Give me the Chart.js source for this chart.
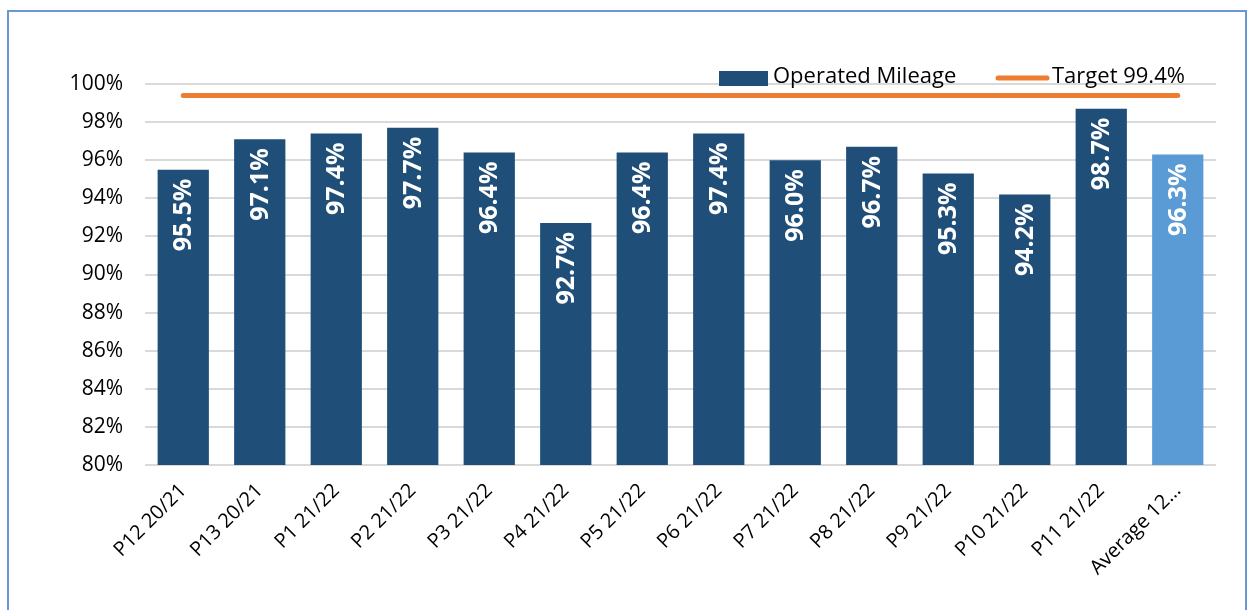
<!DOCTYPE html>
<html>
<head>
<meta charset="utf-8">
<script src="https://cdn.jsdelivr.net/npm/chart.js@4"></script>
<style>
  html, body { margin: 0; padding: 0; background: #fff; }
  #wrap { position: relative; width: 1251px; height: 610px; overflow: hidden; }
  #frame { position: absolute; left: 7px; top: 10px; width: 1240px; height: 640px; border: 2px solid #6A97D2; box-sizing: border-box; }
  canvas { position: absolute; left: 0; top: 0; }
</style>
</head>
<body>
<div id="wrap">
  <div id="frame"></div>
  <canvas id="chart" width="1251" height="610"></canvas>
</div>
<script>
// Catégories et valeurs
var periods = ['P12 20/21', 'P13 20/21', 'P1 21/22', 'P2 21/22', 'P3 21/22', 'P4 21/22', 'P5 21/22',
    'P6 21/22', 'P7 21/22', 'P8 21/22', 'P9 21/22', 'P10 21/22', 'P11 21/22', 'Average 12…'];
var mileage = [95.5, 97.1, 97.4, 97.7, 96.4, 92.7, 96.4, 97.4, 96.0, 96.7, 95.3, 94.2, 98.7, 96.3];
var targetValue = 99.4;
var target = periods.map(function () { return targetValue; });

var darkBlue = '#1F4E79';
var lightBlue = '#5B9BD5';
var orange = '#ED7D31';
var fontName = "'Open Sans', 'Liberation Sans', sans-serif";

var barColors = mileage.map(function (v, i) {
    return i === mileage.length - 1 ? lightBlue : darkBlue;
});

// Étiquettes verticales blanches dans les barres
var barLabels = {
    id: 'barLabels',
    afterDatasetsDraw: function (chart) {
        var ctx = chart.ctx;
        var meta = chart.getDatasetMeta(1);
        ctx.save();
        ctx.fillStyle = '#fff';
        ctx.font = 'bold 25px ' + fontName;
        ctx.textAlign = 'right';
        ctx.textBaseline = 'middle';
        meta.data.forEach(function (bar, i) {
            ctx.save();
            ctx.translate(bar.x + 1, bar.y + 9);
            ctx.rotate(-Math.PI / 2);
            ctx.fillText(mileage[i].toFixed(1) + '%', 0, 0);
            ctx.restore();
        });
        ctx.restore();
    }
};

// Légende dessinée à la main en haut à droite
var legendBox = {
    id: 'legendBox',
    afterDraw: function (chart) {
        var ctx = chart.ctx;
        ctx.save();
        ctx.font = '22px ' + fontName;
        ctx.textBaseline = 'middle';
        ctx.fillStyle = darkBlue;
        ctx.fillRect(719, 71, 49, 15);
        ctx.fillStyle = '#000';
        ctx.fillText('Operated Mileage', 773, 77);
        ctx.strokeStyle = orange;
        ctx.lineWidth = 5;
        ctx.lineCap = 'round';
        ctx.beginPath();
        ctx.moveTo(998, 78);
        ctx.lineTo(1047, 78);
        ctx.stroke();
        ctx.fillText('Target 99.4%', 1052, 77);
        ctx.restore();
    }
};

new Chart(document.getElementById('chart').getContext('2d'), {
    type: 'bar',
    data: {
        labels: periods,
        datasets: [{
            type: 'line',
            label: 'Target 99.4%',
            data: target,
            borderColor: orange,
            borderWidth: 5,
            borderCapStyle: 'round',
            pointRadius: 0,
            fill: false,
            order: 0
        }, {
            type: 'bar',
            label: 'Operated Mileage',
            data: mileage,
            backgroundColor: barColors,
            categoryPercentage: 1,
            barPercentage: 0.67,
            order: 1
        }]
    },
    plugins: [barLabels, legendBox],
    options: {
        responsive: false,
        animation: false,
        layout: { padding: { top: 84, right: 35, left: 0, bottom: 0 } },
        plugins: {
            legend: { display: false },
            tooltip: { enabled: false }
        },
        scales: {
            x: {
                grid: { display: false },
                border: { display: false },
                ticks: {
                    color: '#000',
                    font: { family: fontName, size: 20 },
                    minRotation: 45,
                    maxRotation: 45,
                    autoSkip: false,
                    padding: 6
                },
                afterFit: function (scale) { scale.height = 145; }
            },
            y: {
                min: 80,
                max: 100,
                grid: { color: '#D9D9D9', lineWidth: 2, drawTicks: false },
                border: { display: false },
                ticks: {
                    stepSize: 2,
                    color: '#000',
                    font: { family: fontName, size: 21 },
                    padding: 22,
                    callback: function (v) { return v + '%'; }
                },
                afterFit: function (scale) { scale.width = 145; }
            }
        }
    }
});
</script>
</body>
</html>
